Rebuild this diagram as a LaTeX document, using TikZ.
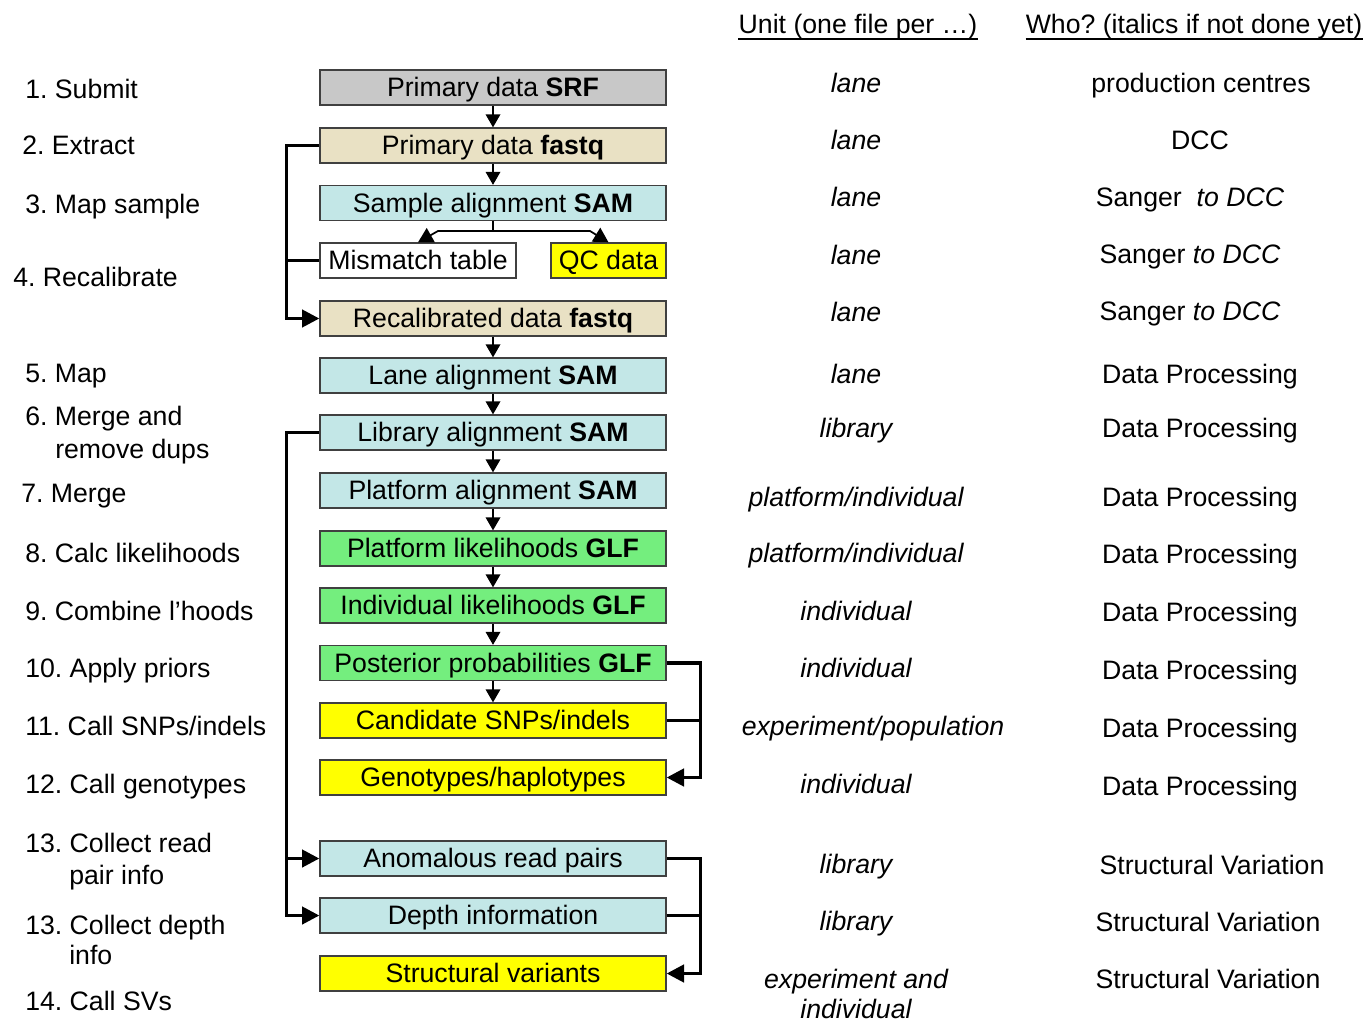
\documentclass[tikz,border=0pt]{standalone}
\usepackage{fontspec}
\setmainfont{Liberation Sans}
\usetikzlibrary{arrows.meta}
\definecolor{cgray}{HTML}{C8C8C8}
\definecolor{cbeige}{HTML}{E9E1C4}
\definecolor{ccyan}{HTML}{C3E7E7}
\definecolor{cgreen}{HTML}{74EE7E}
\definecolor{cyel}{HTML}{FFFF00}
\definecolor{cborder}{HTML}{404040}
\frenchspacing
\begin{document}
\begin{tikzpicture}[x=0.75pt,y=-0.75pt,
  every node/.style={font=\fontsize{20}{24}\selectfont, inner sep=0pt},
  box/.style={draw=cborder, line width=1pt, minimum width=259.5pt, minimum height=26.25pt,
              text height=14pt, text depth=0pt, anchor=center},
  lbl/.style={anchor=base west},
  col/.style={anchor=base},
  sarr/.style={line width=1pt, -{Triangle[length=9.75pt,width=11pt]}},
  thk/.style={line width=2.6pt, line join=miter},
  tarr/.style={thk, -{Triangle[length=13pt,width=13pt]}},
]
\useasboundingbox (0,0) rectangle (1366,1021);

% boxes
\node[box,fill=cgray]  (srf)   at (493,87.5)  {Primary data \textbf{SRF}};
\node[box,fill=cbeige] (fastq) at (493,145.5) {Primary data \textbf{fastq}};
\node[box,fill=ccyan]  (sam)   at (493,203)   {Sample alignment \textbf{SAM}};
\node[box,fill=white,minimum width=147pt] (mm) at (418,260.5) {Mismatch table};
\node[box,fill=cyel,minimum width=86.25pt] (qc) at (608.5,260.5) {QC data};
\node[box,fill=cbeige] (recal) at (493,318.5) {Recalibrated data \textbf{fastq}};
\node[box,fill=ccyan]  (lane)  at (493,375.5) {Lane alignment \textbf{SAM}};
\node[box,fill=ccyan]  (lib)   at (493,432.5) {Library alignment \textbf{SAM}};
\node[box,fill=ccyan]  (pas)   at (493,490.5) {Platform alignment \textbf{SAM}};
\node[box,fill=cgreen] (plg)   at (493,548.5) {Platform likelihoods \textbf{GLF}};
\node[box,fill=cgreen] (ilg)   at (493,605.5) {Individual likelihoods \textbf{GLF}};
\node[box,fill=cgreen] (post)  at (493,663)   {Posterior probabilities \textbf{GLF}};
\node[box,fill=cyel]   (cand)  at (493,720.5) {Candidate SNPs/indels};
\node[box,fill=cyel]   (geno)  at (493,777.5) {Genotypes/haplotypes};
\node[box,fill=ccyan]  (anom)  at (493,858.5) {Anomalous read pairs};
\node[box,fill=ccyan]  (depth) at (493,915.5) {Depth information};
\node[box,fill=cyel]   (sv)    at (493,973.5) {Structural variants};

% small arrows
\draw[sarr] (srf) -- (fastq);
\draw[sarr] (fastq) -- (sam);
\draw[sarr] (recal) -- (lane);
\draw[sarr] (lane) -- (lib);
\draw[sarr] (lib) -- (pas);
\draw[sarr] (pas) -- (plg);
\draw[sarr] (plg) -- (ilg);
\draw[sarr] (ilg) -- (post);
\draw[sarr] (post) -- (cand);

% split from sample alignment
\coordinate (split) at (493,231);
\draw[line width=1.3pt] (sam.south) -- (split);
\draw[line width=1.3pt, -{Triangle[length=11pt,width=12pt]}] (split) -- ++(-55,0) -- (mm.north);
\draw[line width=1.3pt, -{Triangle[length=11pt,width=12pt]}] (split) -- ++(97,0) -- (qc.north);

% left bracket 1
\draw[tarr] (fastq.west) -- ++(-33,0) coordinate (lb1) |- (recal.west);
\draw[thk] (mm.west) -- (mm.west -| lb1);

% left bracket 2
\draw[tarr] (lib.west) -- ++(-33,0) coordinate (lb2) |- (depth.west);
\draw[tarr] (anom.west -| lb2) -- (anom.west);

% right bracket 1
\draw[tarr] (post.east) -- ++(34,0) coordinate (rb1) |- (geno.east);
\draw[thk] (cand.east) -- (cand.east -| rb1);

% right bracket 2
\draw[tarr] (anom.east) -- ++(34,0) coordinate (rb2) |- (sv.east);
\draw[thk] (depth.east) -- (depth.east -| rb2);

% left labels
\node[lbl] (l1)  at (25,98)   {1. Submit};
\node[lbl] (l2)  at (22,154)  {2. Extract};
\node[lbl] (l3)  at (25,213)  {3. Map sample};
\node[lbl] (l4)  at (13,286)  {4. Recalibrate};
\node[lbl] (l5)  at (25,382)  {5. Map};
\node[lbl] (l6a) at (25,425)  {6. Merge and};
\node[lbl] (l6b) at (55,458)  {remove dups};
\node[lbl] (l7)  at (21,502)  {7. Merge};
\node[lbl] (l8)  at (25,562)  {8. Calc likelihoods};
\node[lbl] (l9)  at (25,620)  {9. Combine l’hoods};
\node[lbl] (l10) at (25,677)  {10. Apply priors};
\node[lbl] (l11) at (25,735)  {11. Call SNPs/indels};
\node[lbl] (l12) at (25,793)  {12. Call genotypes};
\node[lbl] (l13a) at (25,852) {13. Collect read};
\node[lbl] (l13b) at (69,884) {pair info};
\node[lbl] (l14a) at (25,934) {13. Collect depth};
\node[lbl] (l14b) at (69,964) {info};
\node[lbl] (l15) at (25,1010) {14. Call SVs};

% headers
\node[col] (h1) at (858,33)  {Unit (one file per …)};
\node[col] (h2) at (1194,33) {Who? (italics if not done yet)};
\draw[line width=1pt] ([yshift=-4.5pt]h1.base west) -- ([yshift=-4.5pt]h1.base east);
\draw[line width=1pt] ([yshift=-4.5pt]h2.base west) -- ([yshift=-4.5pt]h2.base east);

% unit column
\node[col] (u1)  at (856,92)  {\itshape lane};
\node[col] (u2)  at (856,149) {\itshape lane};
\node[col] (u3)  at (856,206) {\itshape lane};
\node[col] (u4)  at (856,264) {\itshape lane};
\node[col] (u5)  at (856,321) {\itshape lane};
\node[col] (u6)  at (856,383) {\itshape lane};
\node[col] (u7)  at (856,437) {\itshape library};
\node[col] (u8)  at (856,506) {\itshape platform/individual};
\node[col] (u9)  at (856,562) {\itshape platform/individual};
\node[col] (u10) at (856,620) {\itshape individual};
\node[col] (u11) at (856,677) {\itshape individual};
\node[col] (u12) at (873,735) {\itshape experiment/population};
\node[col] (u13) at (856,793) {\itshape individual};
\node[col] (u14) at (856,873) {\itshape library};
\node[col] (u15) at (856,930) {\itshape library};
\node[col] (u16a) at (856,988) {\itshape experiment and};
\node[col] (u16b) at (856,1018) {\itshape individual};

% who column
\node[col] (w1)  at (1201,92)  {production centres};
\node[col] (w2)  at (1200,149) {DCC};
\node[col] (w3)  at (1190,206) {Sanger\ \ \textit{to DCC}};
\node[col] (w4)  at (1190,263) {Sanger \textit{to DCC}};
\node[col] (w5)  at (1190,320) {Sanger \textit{to DCC}};
\node[col] (w6)  at (1200,383) {Data Processing};
\node[col] (w7)  at (1200,437) {Data Processing};
\node[col] (w8)  at (1200,506) {Data Processing};
\node[col] (w9)  at (1200,563) {Data Processing};
\node[col] (w10) at (1200,621) {Data Processing};
\node[col] (w11) at (1200,679) {Data Processing};
\node[col] (w12) at (1200,737) {Data Processing};
\node[col] (w13) at (1200,795) {Data Processing};
\node[col] (w14) at (1212,874) {Structural Variation};
\node[col] (w15) at (1208,931) {Structural Variation};
\node[col] (w16) at (1208,988) {Structural Variation};
\end{tikzpicture}
\end{document}
